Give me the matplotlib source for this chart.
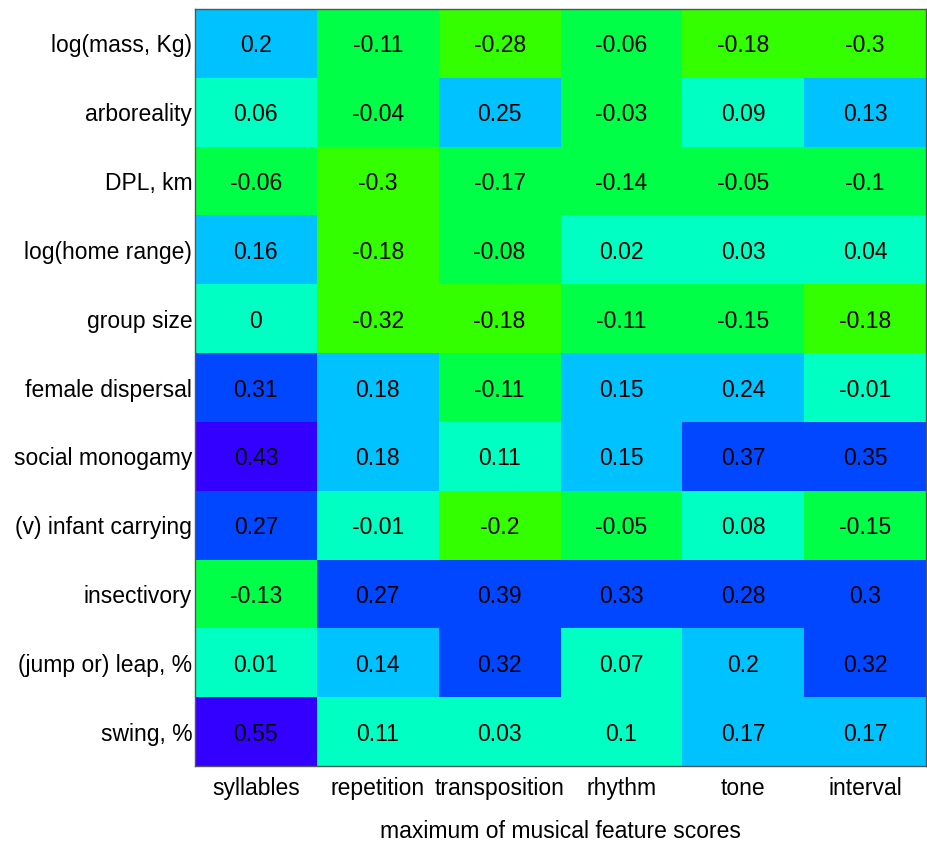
import numpy as np
import matplotlib
matplotlib.use("Agg")
import matplotlib.pyplot as plt
from matplotlib.colors import ListedColormap, BoundaryNorm, hsv_to_rgb

rows = ["log(mass, Kg)", "arboreality", "DPL, km", "log(home range)", "group size",
        "female dispersal", "social monogamy", "(v) infant carrying", "insectivory",
        "(jump or) leap, %", "swing, %"]
cols = ["syllables", "repetition", "transposition", "rhythm", "tone", "interval"]

syllables     = [0.2, 0.06, -0.06, 0.16, 0, 0.31, 0.43, 0.27, -0.13, 0.01, 0.55]
repetition    = [-0.11, -0.04, -0.3, -0.18, -0.32, 0.18, 0.18, -0.01, 0.27, 0.14, 0.11]
transposition = [-0.28, 0.25, -0.17, -0.08, -0.18, -0.11, 0.11, -0.2, 0.39, 0.32, 0.03]
rhythm        = [-0.06, -0.03, -0.14, 0.02, -0.11, 0.15, 0.15, -0.05, 0.33, 0.07, 0.1]
tone          = [-0.18, 0.09, -0.05, 0.03, -0.15, 0.24, 0.37, 0.08, 0.28, 0.2, 0.17]
interval      = [-0.3, 0.13, -0.1, 0.04, -0.18, -0.01, 0.35, -0.15, 0.3, 0.32, 0.17]

data = np.array([syllables, repetition, transposition, rhythm, tone, interval]).T

font = "Liberation Sans"
fs = 16.5

# 6 discrete colours, rainbow hues 0.3 .. 0.7
n = 6
hues = np.linspace(0.3, 0.7, n)
colors = [hsv_to_rgb((h, 1, 1)) for h in hues]
cmap = ListedColormap(colors)
bounds = np.linspace(data.min(), data.max(), n + 1)
bounds[0] -= 1e-9
bounds[-1] += 1e-9
norm = BoundaryNorm(bounds, n)

fig = plt.figure(figsize=(9.27, 8.46), dpi=100)
ax = fig.add_axes([195/927, 1 - 766/846, 731/927, (766 - 9)/846])
ax.pcolormesh(np.arange(len(cols) + 1), np.arange(len(rows) + 1), data,
              cmap=cmap, norm=norm)
ax.set_xlim(0, len(cols))
ax.set_ylim(len(rows), 0)

for i in range(len(rows)):
    for j in range(len(cols)):
        v = data[i, j]
        s = f"{v:g}"
        ax.text(j + 0.5, i + 0.5, s, ha="center", va="center_baseline",
                fontsize=fs, family=font, color="black")

ax.set_xticks(np.arange(len(cols)) + 0.5)
ax.set_xticklabels(cols, family=font, fontsize=fs)
ax.set_yticks(np.arange(len(rows)) + 0.5)
ax.set_yticklabels(rows, family=font, fontsize=fs)
ax.tick_params(axis="both", length=0)
ax.tick_params(axis="x", pad=8)
ax.tick_params(axis="y", pad=2)
ax.set_xlabel("maximum of musical feature scores", family=font, fontsize=fs, labelpad=14)

for sp in ax.spines.values():
    sp.set_color("#555555")
    sp.set_linewidth(1)

fig.savefig("out.png", dpi=100)
